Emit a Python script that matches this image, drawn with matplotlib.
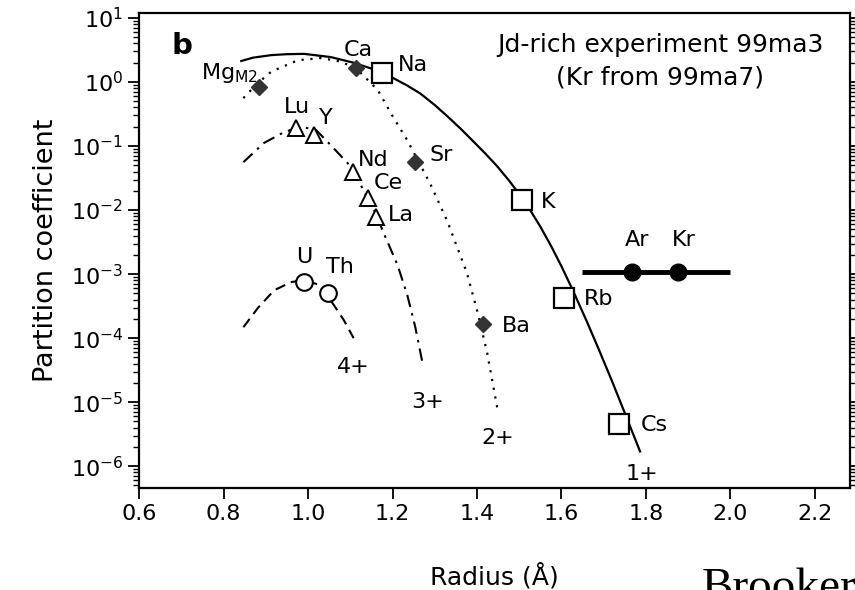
import numpy as np
import matplotlib.pyplot as plt

plt.rcParams['font.family'] = 'DejaVu Sans'

# fitted lattice-strain curves (radius in A, partition coefficient)
curve_1_r = [0.842, 0.87, 0.913, 0.95, 0.991, 1.054, 1.108, 1.15, 1.202, 1.235, 1.266, 1.30,
             1.329, 1.36, 1.384, 1.42, 1.447, 1.476, 1.506, 1.525, 1.55, 1.576, 1.60, 1.626,
             1.66, 1.689, 1.72, 1.753, 1.786]
curve_1_D = [2.13, 2.4, 2.63, 2.72, 2.75, 2.45, 2.0, 1.62, 1.15, 0.88, 0.66, 0.437,
             0.295, 0.19, 0.132, 0.076, 0.049, 0.0288, 0.0158, 0.0102, 5.5e-3, 2.7e-3, 1.32e-3,
             5.75e-4, 1.82e-4, 6.5e-5, 2.1e-5, 6.0e-6, 1.7e-6]

curve_2_r = [0.847, 0.88, 0.913, 0.976, 1.031, 1.075, 1.113, 1.165, 1.202, 1.235, 1.289, 1.329,
             1.376, 1.402, 1.424, 1.449]
curve_2_D = [0.56, 0.95, 1.45, 2.19, 2.37, 2.1, 1.66, 0.75, 0.28, 0.123, 0.026, 6.9e-3,
             1.05e-3, 2.45e-4, 5.9e-5, 7.5e-6]

curve_3_r = [0.847, 0.896, 0.944, 0.984, 1.019, 1.047, 1.094, 1.125, 1.160, 1.179, 1.212,
             1.235, 1.254, 1.271]
curve_3_D = [0.056, 0.112, 0.166, 0.20, 0.178, 0.115, 0.054, 0.0245, 8.9e-3, 4.4e-3, 1.38e-3,
             4.7e-4, 1.48e-4, 4.1e-5]

curve_4_r = [0.847, 0.882, 0.920, 0.960, 0.991, 1.026, 1.061, 1.085, 1.108]
curve_4_D = [1.48e-4, 3.0e-4, 5.6e-4, 7.5e-4, 8.1e-4, 6.8e-4, 3.3e-4, 1.9e-4, 1.0e-4]

# measured partition coefficients
ion_1 = ['Na', 'K', 'Rb', 'Cs']
r_1 = [1.176, 1.506, 1.607, 1.736]
D_1 = [1.38, 0.0144, 4.2e-4, 4.5e-6]

ion_2 = ['Mg$_{\\mathregular{M2}}$', 'Ca', 'Sr', 'Ba']
r_2 = [0.885, 1.113, 1.254, 1.414]
D_2 = [0.84, 1.65, 0.056, 1.65e-4]

ion_3 = ['Lu', 'Y', 'Nd', 'Ce', 'La']
r_3 = [0.972, 1.014, 1.106, 1.141, 1.160]
D_3 = [0.19, 0.148, 0.039, 0.0154, 0.0078]

ion_4 = ['U', 'Th']
r_4 = [0.991, 1.047]
D_4 = [7.5e-4, 5.0e-4]

ion_noble = ['Ar', 'Kr']
r_noble = [1.767, 1.875]
D_noble = [1.07e-3, 1.07e-3]
noble_span = [1.649, 2.0]

charges = ['1+', '2+', '3+', '4+']

fig = plt.figure(figsize=(8.55, 5.9), dpi=100)
ax = fig.add_axes([0.1626, 0.1729, 0.8316, 0.8051])

# curves
ax.plot(curve_1_r, curve_1_D, color='k', lw=1.6, ls='-')
ax.plot(curve_2_r, curve_2_D, color='k', lw=1.6, ls=(0, (1, 3)))
ax.plot(curve_3_r, curve_3_D, color='k', lw=1.5, ls=(0, (6, 3, 1.2, 3)))
ax.plot(curve_4_r, curve_4_D, color='k', lw=1.5, ls=(0, (5, 3)))

# noble gases
ax.plot(noble_span, [D_noble[0]] * 2, color='k', lw=3.5, solid_capstyle='butt')
ax.plot(r_noble, D_noble, 'o', color='k', ms=12, zorder=5)

# data points
ax.plot(r_1, D_1, 's', mfc='white', mec='k', mew=1.6, ms=14, zorder=5)
ax.plot(r_2, D_2, 'D', color='#333333', ms=8, zorder=5)
ax.plot(r_3, D_3, '^', mfc='white', mec='k', mew=1.4, ms=12, zorder=5)
ax.plot(r_4, D_4, 'o', mfc='white', mec='k', mew=1.5, ms=12, zorder=5)

lab = dict(fontsize=16, va='center')
offsets_1 = [(11, 6, 'left'), (14, -1.5, 'left'), (14, -0.7, 'left'), (15.5, -0.7, 'left')]
offsets_2 = [(-1, 10, 'right'), (2, 13, 'center'), (10.5, 5, 'left'), (14, -1.5, 'left')]
offsets_3 = [(0.7, 15, 'center'), (8.6, 12, 'center'), (3.6, 8.6, 'left'), (4.3, 10.8, 'left'),
             (8.6, 1.4, 'left')]
offsets_4 = [(0, 18, 'center'), (-1.4, 18.7, 'left')]
offsets_n = [(3.6, 23, 'center'), (4.3, 23, 'center')]

for names, rs, Ds, offs in [(ion_1, r_1, D_1, offsets_1), (ion_2, r_2, D_2, offsets_2),
                            (ion_3, r_3, D_3, offsets_3), (ion_4, r_4, D_4, offsets_4),
                            (ion_noble, r_noble, D_noble, offsets_n)]:
    for name, r, D, (dx, dy, ha) in zip(names, rs, Ds, offs):
        ax.annotate(name, (r, D), xytext=(dx, dy), textcoords='offset points', ha=ha, **lab)

# charge labels below curve ends
ends = [(curve_1_r[-1], curve_1_D[-1], 1.4, -16), (curve_2_r[-1], curve_2_D[-1], 0, -20),
        (curve_3_r[-1], curve_3_D[-1], 3.6, -28), (curve_4_r[-1], curve_4_D[-1], 0, -21)]
for q, (r, D, dx, dy) in zip(charges, ends):
    ax.annotate(q, (r, D), xytext=(dx, dy), textcoords='offset points', ha='center', **lab)

ax.text(0.046, 0.93, 'b', transform=ax.transAxes, fontsize=21, fontweight='bold', va='center')
ax.text(0.733, 0.933, 'Jd-rich experiment 99ma3', transform=ax.transAxes, fontsize=18,
        ha='center', va='center')
ax.text(0.733, 0.865, '(Kr from 99ma7)', transform=ax.transAxes, fontsize=18,
        ha='center', va='center')

ax.set_yscale('log')
ax.set_xlim(0.6, 2.283)
ax.set_ylim(10 ** -6.34, 10 ** 1.078)
ax.set_xticks([0.6, 0.8, 1.0, 1.2, 1.4, 1.6, 1.8, 2.0, 2.2])
ax.set_xticklabels(['0.6', '0.8', '1.0', '1.2', '1.4', '1.6', '1.8', '2.0', '2.2'])
ax.set_yticks([10.0 ** k for k in range(-6, 2)])
ax.tick_params(axis='both', which='major', labelsize=16, direction='out', length=8, width=1.3)
ax.tick_params(axis='y', which='both', right=True)
ax.tick_params(axis='y', which='minor', direction='out', length=4, width=1.0)
for s in ax.spines.values():
    s.set_linewidth(1.6)

ax.set_xlabel('Radius (Å)', fontsize=18, labelpad=28)
ax.set_ylabel('Partition coefficient', fontsize=19.5, labelpad=8)

fig.text(702 / 855, 1 - 568 / 590, 'Brooker', family='Liberation Serif', fontsize=34, va='top')

fig.savefig('out.png', dpi=100)
